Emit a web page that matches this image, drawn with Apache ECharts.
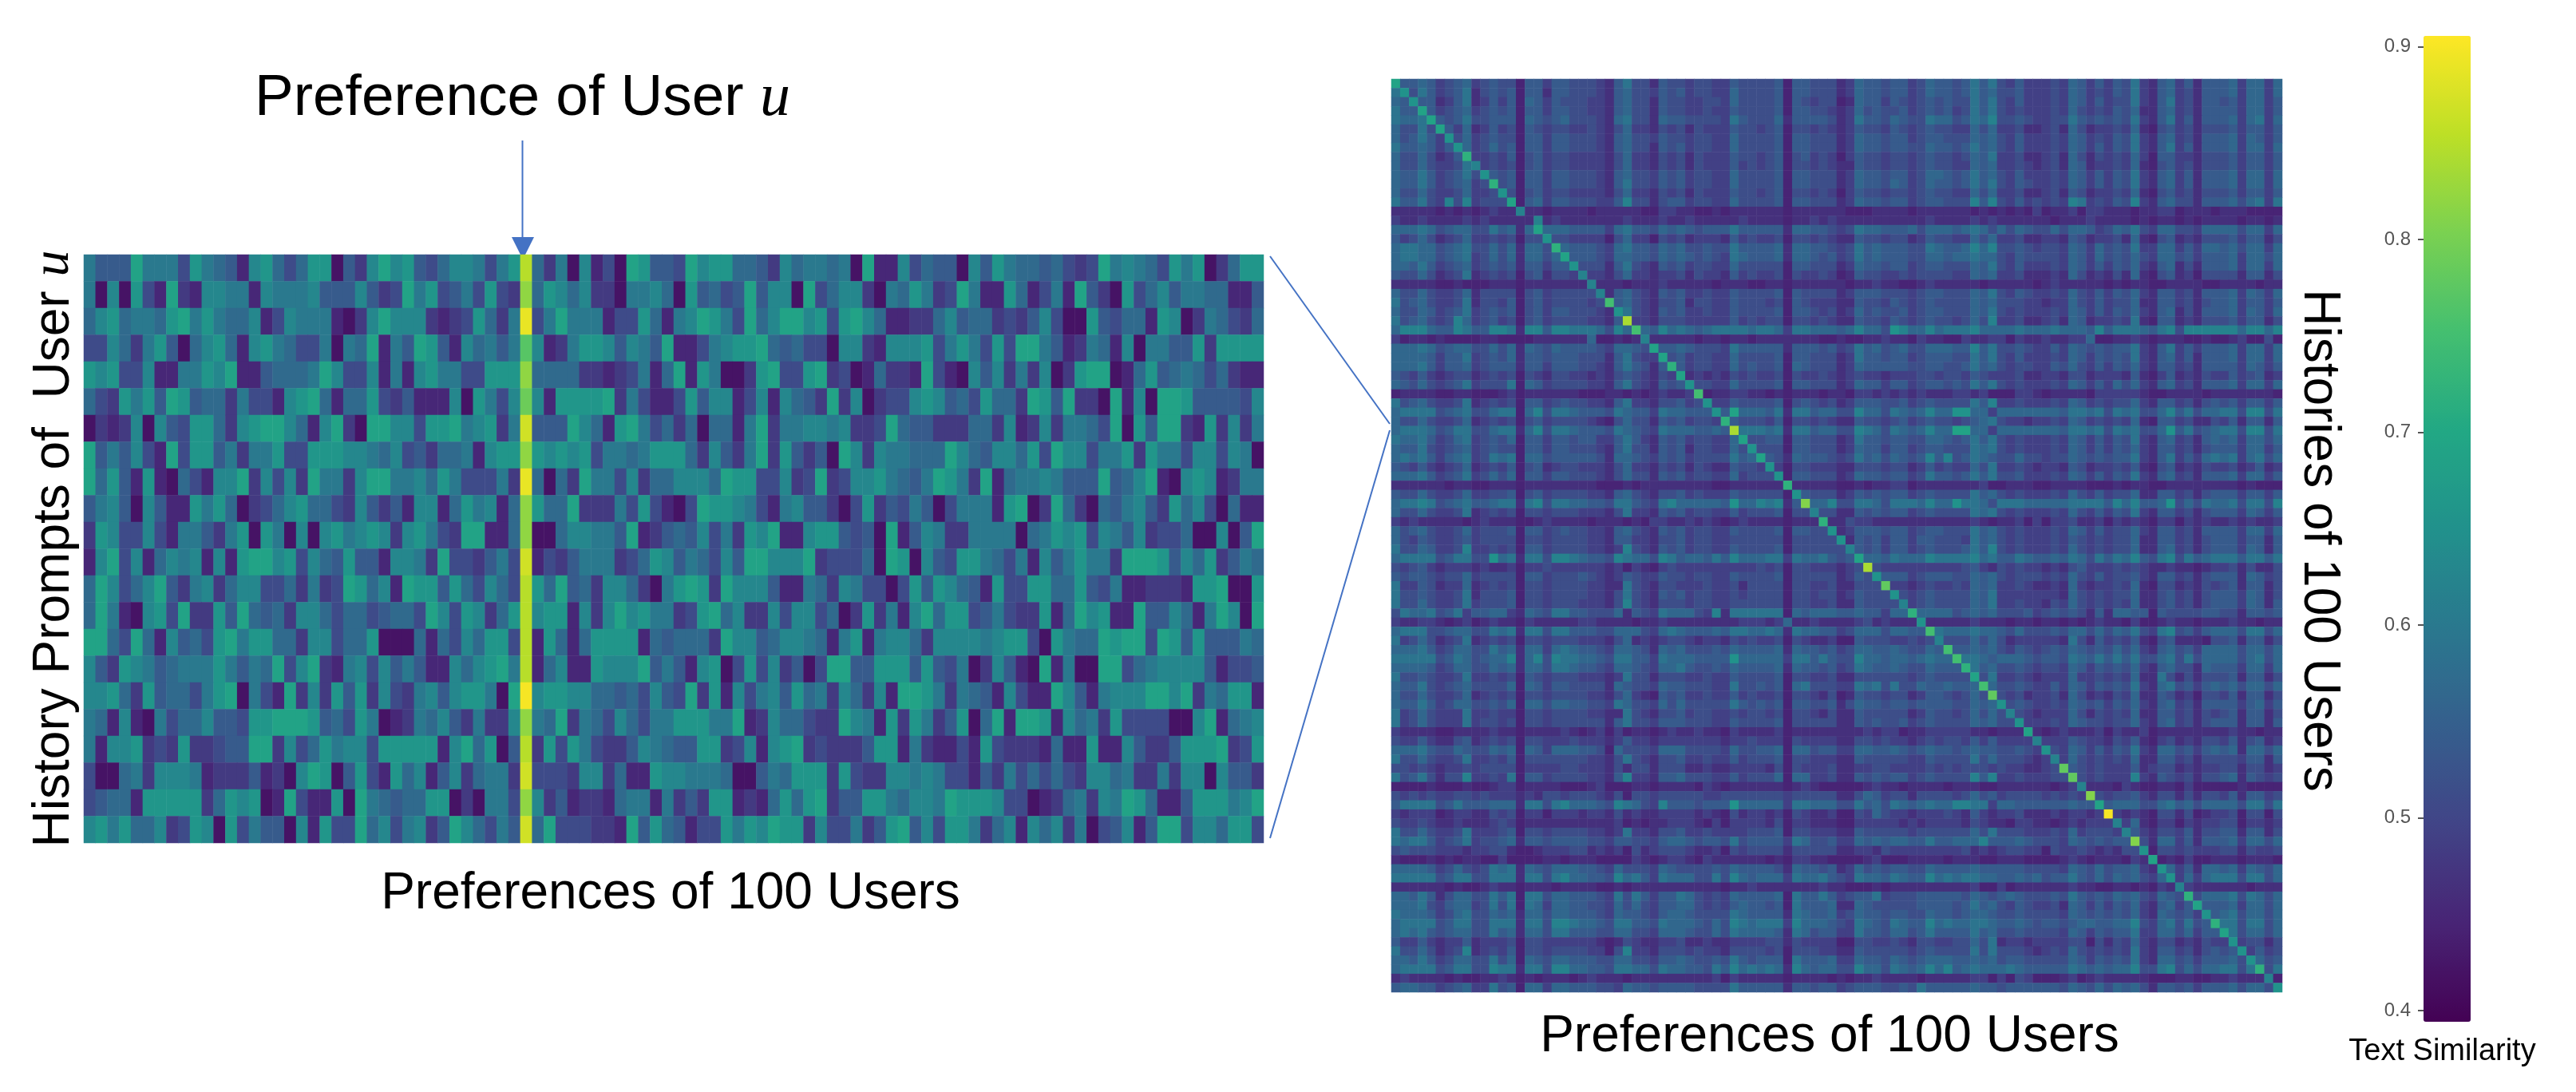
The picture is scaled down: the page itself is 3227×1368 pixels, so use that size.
<!DOCTYPE html>
<html>
<head>
<meta charset="utf-8">
<title>Text similarity</title>
<script src="https://cdn.jsdelivr.net/npm/echarts@6/dist/echarts.min.js"></script>
<style>
html,body{margin:0;padding:0;background:#fff}
#main{width:3227px;height:1368px}
</style>
</head>
<body>
<div id="main"></div>
<script>
// one char per cell: the index in levelChars gives the value in the level table
var levelChars = "0123456789abcdefg";
var leftLevels = [0.42,0.45,0.48,0.51,0.54,0.57,0.60,0.63,0.66,0.69,0.77,0.79,0.82,0.85,0.87,0.89,0.90];
var rightLevels = [0.445,0.465,0.49,0.515,0.54,0.565,0.59,0.62,0.655,0.69,0.72,0.75,0.78,0.81,0.84,0.87,0.90];
var tickValues = [0.4,0.5,0.6,0.7,0.8,0.9];
var titleLeft = "Preference of User ";
var titleVar = "u";

// 22 history prompts x 100 users
var leftRows = [
"6444966638 6541785358 8042797843 5776368d52 6071309844 3978855427 5665609117 3544074865 5453239676 5386802588",
"6070831921 7766176667 4447423968 3463832c58 7572206675 0845349477 0935772065 8623961185 1361942083 5746655114",
"5785665896 8655713766 6102797772 1238526f36 9666133851 6798639579 9783897511 2257455232 4730084355 1870265325",
"3375268405 7851786533 6065916498 4175646a71 2688747649 1136788954 5330772177 7836863839 9641265170 6644828888",
"8783371166 8791145556 9733716178 6633888c55 5522123615 9186002893 3892301522 1931074726 2702899015 8456535211",
"5328684984 5526331789 5155832411 1708637b71 8888926311 3847713717 5429270233 7874538552 9849220917 0998444437",
"0212707438 8527899751 7920997738 8967826e44 4975189635 2505516926 6776722395 4422255271 2726653908 4992182726",
"9464731938 8462668338 8877657342 5561788c87 8783665688 8527426928 4240972766 5559754775 8397736682 8663773760",
"9584181053 1779273729 6627996675 8633362f50 5296637255 7775988337 2392377865 4698629156 6764449457 9107871266",
"4674074118 6850235785 5327424177 1586715c85 5922263831 0398876316 7442038243 6403666189 0295205467 4285730511",
"2873373166 4268086070 7867872786 3299115c00 5776649124 5473628791 1788434091 4762266660 5687837647 2335007049",
"1793715767 1718997837 5484417762 9332463e13 2466623587 4653749977 7923335098 0743886536 1746866299 9847582465",
"5973579426 7257733526 2398571988 4853753d85 9452775206 8982977741 1652763303 8487541833 8855843611 2221889008",
"5961078392 2849545277 5355345539 7387258d78 8172797866 2389572273 7735028261 7958834632 2815978119 4475169709",
"9953951745 3896885527 7355800051 5375883d18 5158888154 5552977457 7651681677 5277776788 3086559899 3984844465",
"7428764566 6864659379 2167374641 1757896d15 7118777946 4178038372 4039944888 4843602741 0916009935 6777741334",
"7785284553 6890631927 2848273267 4788609g78 8775545374 3928173674 8562752719 9862654173 1197416777 9979265881",
"6517106355 7443889998 4538601265 7426227c65 9265375366 8886691275 5322976182 8624805919 9817562833 3300791567",
"6177823282 2344992735 8677388888 1795804d28 3863224765 4488237178 9232224881 6211318322 2151181174 2248889238",
"3005627776 1222412079 8048318571 4725662e33 3277251187 7666500465 8882832277 6763314263 5353277562 2627707442",
"3455188888 2587801931 1809654558 8020663c72 4122156616 2428812158 5892448865 7769888733 0125627698 5114888679",
"7868557238 7083644071 8339573672 4975364e59 3332219485 4133868798 8273362489 4738862571 7572603471 4993775883"
];

// 100 histories x 100 users
var rightRows = [
"9445423452 3433044244 3332146331 4332332243 3334044333 1254434423 5443464632 4222325424 2436214524 1444525525",
"6836423461 3434044144 3332145332 4342332253 3334044333 1254434423 5443464533 4222325423 2436214523 1444525525",
"5484412461 2424054243 3322145331 4332233253 3334043233 0154424323 4343364632 4222325424 2336214623 1443425524",
"6449423452 3434044244 3322145331 4332232243 3334044332 1253433423 4342364632 3222325323 2435114523 1444425524",
"6556943463 3444054345 3332156331 5443333264 3335144443 1264435433 6553465733 4322336434 3436214624 1444525625",
"5336394251 2423043233 2232135221 3231322243 3234033232 1243324323 4332253522 3112315312 2325103423 1333424424",
"5346428352 3433044244 3332145332 4332332253 3334044333 1254434423 4433354532 4222325423 2436214523 1444525424",
"6445424852 3534044244 3332145331 4342332253 3334044333 1254434433 5443464532 4222325424 2436214624 1444525525",
"533531 24a2 2324034233 2222135221 3231322243 3234034232 0243323323 4332354622 3112315313 2325204422 1333424424",
"5335322367 2323034233 2222135221 3231322242 3234033232 1143323323 4332254522 3212315412 2325103423 1333424424",
"5446423463 8434044244 3332145332 4342332253 3334044333 1254434423 5543464532 4222325424 2436214524 1444525525",
"5446423452 3a34044244 3332146332 4342332253 3334044333 1254435423 5443464632 4322325424 2436214524 1444525525",
"5335322352 2383034233 2222135221 3231322243 3234033232 0243323323 4332253522 3112314312 2325103423 1333424424",
"6446327372 3339045244 3332247331 3442332253 3334044333 1254434423 4433374732 4232327623 2437214533 1444535626",
"1111101010 1211711011 1101111100 2211001011 1111011111 1000111101 1111101010 1020112022 1110112201 1101110000",
"2112111121 2111117121 1111112111 2112111112 1111011212 1111111111 2111121211 1111011121 1110101101 0111101101",
"5556534553 3645159555 4444256443 5454344464 4444155443 2365544453 5554565353 5433535542 3546325533 2555535525",
"4235312352 2323033833 2222035220 3231222142 3223033232 1143323312 4332253522 3112214312 2315103412 1333424413",
"5665534563 35351553a5 4443256443 5453343364 4445155443 2364544433 6544575733 4323325425 3436225524 2554535525",
"5665534562 3535155359 4443255443 5454343265 4445155434 2364544433 5545565532 4333325425 3435325534 2444525535",
"5546423452 3434144244 8333146321 4342332253 3333044333 1254434423 4433354632 4222325424 2435214513 1444525525",
"4335312361 2323034133 2722135221 2231322142 3223032232 0143322323 3332254522 3111215312 1315103412 0333314413",
"1111100100 0111011111 1171110111 2111110111 0011011111 1011211001 2111110111 1101211111 0101100111 1001111011",
"5335322351 3333034233 3337145321 4342232243 3334043333 1244433323 4433354632 4322325324 2435214423 1444525425",
"6345322361 3324034233 3323b45321 3341332243 3323043222 1143324323 4333354533 3221225324 2335114423 1344524424",
"5335423462 3434034244 3332186321 4342232243 3334044323 1253433423 4433354632 3222325424 2435214513 1444525425",
"6345323752 3423034233 332214e221 3332222242 3233033232 1143324323 4332353722 3112315412 2326104412 1333424413",
"5777544764 4776177477 6665375b54 7565456666 5665266555 4575538755 7566675555 6555655547 4666546737 7777757757",
"2011010000 1100001111 1150010171 1111011011 0111111100 1001121102 1100211220 2112112250 0112101110 0100120030",
"5556534553 3535154354 4443255439 4454333264 4444144434 2364534533 5554474633 4322425434 3446214624 2444525525",
"5555424462 3435144344 4333146322 9342332253 3334044333 1264434423 4443364632 4222325424 3436214524 1444525525",
"5556424452 3444144244 4332146431 4a42332253 4334054333 1254444433 4433464532 3322435324 2435214423 1444425424",
"4324212331 2323032133 2212134321 3291212132 3223032232 1232212223 3233243222 3112213312 2214102412 1322423412",
"5435323462 3336054233 3322146321 4348332253 3334044333 1254424423 4434364632 3222325424 2535214523 1444525525",
"0111100110 0012011111 1000110101 2112b01122 1101011101 1022121212 1112212000 2210111102 2222100111 1011111110",
"6345322361 2323044234 3322146221 3342382243 3334034323 1244433423 4333364722 3222325423 2335214423 1343424424",
"5666634563 3566057366 5444365442 6554448495 5546166455 3375536545 7558855255 5555546656 3656335746 3556637736",
"5335322351 2323034233 3321035331 4342332a43 3324033232 1143323423 4332345632 2122325423 2325104423 1132414414",
"5666534663 3566157366 5444365432 65554454e6 6656166455 3376536545 7559955255 5555546656 3656335846 3456637736",
"6556423562 3435044244 3442246421 4342332259 3344044333 1264434433 5543464632 3222325424 2436214523 1454525535",
"5446323452 3433044244 3332146331 4341332253 8333044333 1254424423 4433365632 3222325424 2435214423 1344425524",
"5656424562 3656055344 4443155432 4342333364 5943154443 2364535434 7473465433 5332335434 3446214624 2565625635",
"4324212351 2324034123 3222135221 3231321143 3282033222 1133323312 4232253622 3212214312 2324103412 1322312412",
"5556423462 3535044244 3332135331 4342332252 3338044333 1254434423 6443464633 4222325424 2436214523 1444525524",
"1111110110 0111011111 1110001011 1111110011 1111a11111 0010112201 1111112001 1100111100 0101100111 1111101000",
"4335322352 2334034233 3322145321 3342322243 3333084333 1243434423 4333364532 3222325324 2335114423 1344424424",
"5667634564 4566167366 5544366432 6755555485 576714d557 3366536665 7558665366 6555556666 4757445835 3655636637",
"5335322361 2323033233 3222136221 4342332242 3334033733 1143434423 4333365632 3222325324 2436214423 1344425424",
"2121111101 2111001211 1101110102 2112121012 11110111a1 1322111111 1111121011 2020223112 0212102202 1211212112",
"5345322352 3334044234 3322145321 4342332243 3334044338 1244434423 4433364532 3222325424 2335214423 1444425525",
"5324322342 3333033233 3322144221 3342332233 3333033333 8143424424 4333264532 3222324323 2335114423 1344424414",
"6335422372 2323044233 3322127321 4342332243 3334033333 3743424423 4333464732 3222325323 2335114523 1344425414",
"5666634663 3856166377 6544376553 7645546475 5566265564 3495546555 7666675644 6544546536 4657436736 4566646646",
"3234212221 2112022322 2222120210 2322222222 2323033222 123e322222 2222342132 3221213422 2323211211 0122313113",
"4344323352 3333044233 3432124322 4332332243 3334033333 1243844423 4443354532 3332325324 2334214423 1344415423",
"6224312251 2323033233 3322116321 3322232231 3333033223 11333c2212 3223254522 3211215212 2325103312 1323414413",
"6334322361 3334033233 3322136321 4342332232 3333033233 1243338323 4333354622 2222215323 2335113423 1344425413",
"6335322362 3334033233 3222137321 3332332233 3333033223 1143333723 4333354622 3221325323 2325113423 1344425414",
"3655634624 4552154366 4433351432 6555327166 6666054555 44544255a5 5553454533 3423434314 1554404333 3443314434",
"2112210120 1211021111 1221111011 2111111112 2212511211 1123121118 1111121110 1101101012 1102001211 0111211011",
"5666334553 3656166366 4443355532 5654445466 5565165544 2355535544 b655565543 5333435535 3546326734 2455536635",
"6235312361 2323033233 3222135121 2332122132 3223032112 0043332232 3733353531 2222216314 2324103411 1033414413",
"5556423553 3645155256 5443255431 5453334354 4445154434 2355445433 54b4454532 4323435434 3535214534 2555535535",
"6666634653 4557157376 6554366442 6555444485 5555266464 3375545545 655b665455 5434436546 4646335636 3555535635",
"5555423553 3545155366 5443255432 5564334354 4445154434 2365445433 5444a64533 4323325424 3435214533 1544425525",
"6334322362 2323043233 3222126331 3332232243 3334033223 1133333323 4333393622 3212225223 2325116313 1333414413",
"5446323453 3335054244 3333154332 5443332263 3434056333 2265636335 445445b533 4322425424 3436215634 2454535535",
"5335322351 2323033233 3322135210 4342232242 3223033213 0143323312 4432353c32 3122315312 1325114312 0332414413",
"5446423553 3435055355 4433265332 5353333364 3434044334 1354434434 4443354583 4322325434 2435214523 1444424524",
"6235322262 2322033233 3322116321 3342332232 3323033213 1143333312 4332353537 3212225313 2325114423 1323414413",
"6235322262 3323033233 3333146332 4443332243 3334033333 1143433423 4333354533 8222325433 2335214523 1344414414",
"2111100111 1211011112 1012020110 1211211021 1112011111 1112122011 2222211011 1910121112 0211201111 1111211011",
"3224211341 2323033222 3222124221 2222222122 3222032222 1133232212 3233242422 2272224322 1324102312 1332413412",
"5556433543 3545054255 5443053332 5553333253 3445055344 2255445434 5443454433 4328325424 2436215534 2454515535",
"6335322362 2324033333 3322136321 3342232242 3334033222 1143333322 4333363533 3212725323 2325114423 1333324414",
"3323212232 3333022223 3222131331 3331121122 2213032223 1122332222 3232333232 21123c4323 2224123312 1223313312",
"6346313372 2326044233 3322147221 4453332242 3335055223 1143434423 4333374722 322233c323 2227214323 1334514323",
"0000100010 0122011110 0012000110 1111021011 1111012100 0001211011 1101110011 1111012711 1021001102 0000010000",
"3232322332 3222121332 3332130332 3333322333 3333233333 1135423313 3332353423 33323232d3 2334213313 1332414423",
"4666634644 4555166367 5554376532 7444344485 5555266555 3364536545 6557766255 4444445449 4555335645 3555536636",
"2122201221 1323022022 2122131211 2222121031 2212032112 0032532212 2232142122 3111212212 g212103313 0122303303",
"3223211211 1232011111 1111120101 1222102022 2213022111 0022222121 2222132110 2211012122 2725102202 1223302212",
"6335322362 2234033233 3322126221 3342232222 3334033222 1143333323 3333353633 3222325233 3274213324 1334414413",
"6566423462 3345144344 4433244332 4554344363 4444265334 2254545544 6445557444 5433325434 344d315524 1444525535",
"3433322212 2331001222 3312120312 3332112032 3333133333 1122132222 2222312123 3220322321 2133803323 2223313223",
"1000101011 0020000110 1110000210 1221021111 1101022110 0001200011 1101110011 1000012101 1102190102 0011101110",
"5555423532 3656154355 5443253332 5433334354 4443154434 1253434433 5444454444 4333325435 3445218524 1554525435",
"6666634663 3666166367 5544375642 6555336375 4555265564 3265546544 7565665544 5453446435 3545325825 2566636635",
"1111110100 1211011101 1110010111 1111111011 2111111121 1000101111 1111120020 1111112110 0110102172 1111110111",
"5546413553 3646066355 4443263642 4465323254 4445064464 2344623334 4444354345 4333436434 354532543a 3555636535",
"5556324552 3636065255 4433253532 4455323245 4434064445 1154333334 4443464532 4322315424 2435214524 9444525535",
"6555423563 3545155355 4443254432 4554333365 4444165445 2354434433 5443455433 4333325434 3435215434 2845635535",
"5666634663 3666166377 6554366443 6555435376 5666275554 3265436544 7565566544 5434434554 4557325636 34a6636635",
"5656434553 3645155366 4443355332 5554335365 5554165344 2264435534 6444464533 4333325424 3446225535 2449635535",
"4224212241 2223033222 2221013211 2231121122 2233132222 0033223213 3223353612 2122223303 1325213312 1322823313",
"6335312371 2324033233 3322037221 3332322133 3323033322 1143333323 4333363633 3212325323 2326214423 1343482423",
"5546423553 3635054355 4443355332 4454334364 3444064445 2254435434 5554454534 4333335424 3436215534 2444538534",
"5666634663 3766166377 5544366553 6554436475 6565175455 3375536545 7574565556 5444446545 4557336735 3556636a36",
"1211110100 1121010111 0121110111 1111112021 1111011110 1011211110 1111122020 3200012012 1111100011 0011211170",
"4554423452 2634055255 4443325443 4444333364 4444144344 2344433436 4444454434 4444435435 3545314434 2444535538"
];

var viridis = ['#440154','#482475','#414487','#355f8d','#2a788e','#21918c','#22a884','#44bf70','#7ad151','#bddf26','#fde725'];

function toCells(rows, levels) {
    var cells = [];
    rows.forEach(function (row, y) {
        var chars = row.replace(/ /g, "");
        for (var x = 0; x < chars.length; x++) {
            cells.push([x, y, levels[levelChars.indexOf(chars[x])]]);
        }
    });
    return cells;
}
function indexList(n) {
    var list = [];
    for (var i = 0; i < n; i++) list.push(i);
    return list;
}
function nameStyle(padding) {
    return {
        fontFamily: 'Liberation Sans', fontSize: 64, color: '#000', padding: padding,
        rich: {
            a: {fontFamily: 'Liberation Sans', fontSize: 64, color: '#000'},
            b: {fontFamily: 'Liberation Serif', fontStyle: 'italic', fontSize: 66, color: '#000'}
        }
    };
}
function hiddenCat(index, n, name, extra) {
    var axis = {
        type: 'category', gridIndex: index, data: indexList(n),
        axisLine: {show: false}, axisTick: {show: false}, axisLabel: {show: false}, splitLine: {show: false},
        name: name, nameLocation: 'middle'
    };
    for (var k in extra) axis[k] = extra[k];
    return axis;
}

var myChart = echarts.init(document.getElementById('main'), null, {renderer: 'canvas'});
var option = {
    animation: false,
    backgroundColor: '#fff',
    title: {
        text: '{a|' + titleLeft + '}{b|' + titleVar + '}',
        left: 314, top: 81,
        textStyle: {fontWeight: 'normal', rich: {
            a: {fontFamily: 'Liberation Sans', fontWeight: 'normal', fontSize: 73, color: '#000'},
            b: {fontFamily: 'Liberation Serif', fontWeight: 'normal', fontStyle: 'italic', fontSize: 76, color: '#000'}
        }}
    },
    grid: [
        {left: 105, top: 319, width: 1478, height: 737},
        {left: 1743, top: 99, width: 1116, height: 1144},
        {left: 3036, top: 45, width: 59, height: 1235}
    ],
    xAxis: [
        hiddenCat(0, 100, 'Preferences of 100 Users', {nameGap: 32, nameTextStyle: nameStyle([0, 8, 0, 0])}),
        hiddenCat(1, 100, 'Preferences of 100 Users', {nameGap: 24, nameTextStyle: nameStyle([0, 18, 0, 0])}),
        {
            type: 'category', gridIndex: 2, data: [0],
            axisLine: {show: false}, axisTick: {show: false}, axisLabel: {show: false},
            name: 'Text Similarity', nameLocation: 'middle', nameGap: 19,
            nameTextStyle: {fontFamily: 'Liberation Sans', fontSize: 38, color: '#000', padding: [0, 12, 0, 0]}
        }
    ],
    yAxis: [
        hiddenCat(0, 22, '{a|History Prompts of  User }{b|u}', {inverse: true, nameGap: 4, nameRotate: 90, nameTextStyle: nameStyle(0)}),
        hiddenCat(1, 100, 'Histories of 100 Users', {inverse: true, position: 'right', nameGap: 14, nameRotate: -90, nameTextStyle: nameStyle([0, 0, 0, 12])}),
        {
            type: 'value', gridIndex: 2, min: 0.3942, max: 0.9056, position: 'left',
            splitLine: {show: false}, axisLine: {show: false},
            axisTick: {show: true, length: 7, customValues: tickValues, lineStyle: {color: '#555', width: 2}},
            axisLabel: {
                customValues: tickValues, margin: 16, color: '#555', fontFamily: 'Liberation Sans', fontSize: 24,
                formatter: function (v) { return v.toFixed(1); }
            }
        }
    ],
    visualMap: {
        type: 'continuous', seriesIndex: [0, 1],
        min: 0.3942, max: 0.9056, calculable: false, realtime: false,
        left: 3036, top: 45, itemWidth: 59, itemHeight: 1235, padding: 0,
        text: null, showLabel: false,
        inRange: {color: viridis},
        textStyle: {fontSize: 0, color: 'transparent'},
        formatter: function () { return ''; }
    },
    series: [
        {type: 'heatmap', xAxisIndex: 0, yAxisIndex: 0, data: toCells(leftRows, leftLevels), progressive: 0, silent: true, itemStyle: {borderWidth: 0}},
        {type: 'heatmap', xAxisIndex: 1, yAxisIndex: 1, data: toCells(rightRows, rightLevels), progressive: 0, silent: true, itemStyle: {borderWidth: 0}}
    ],
    graphic: [
        {type: 'line', shape: {x1: 654.5, y1: 176, x2: 654.5, y2: 300}, style: {stroke: '#4472c4', lineWidth: 2}},
        {type: 'polygon', shape: {points: [[641, 297], [669, 297], [655, 325]]}, style: {fill: '#4472c4'}},
        {type: 'line', shape: {x1: 1591, y1: 321, x2: 1741, y2: 531}, style: {stroke: '#4472c4', lineWidth: 2}},
        {type: 'line', shape: {x1: 1591, y1: 1050, x2: 1741, y2: 539}, style: {stroke: '#4472c4', lineWidth: 2}}
    ]
};
myChart.setOption(option);
</script>
</body>
</html>
